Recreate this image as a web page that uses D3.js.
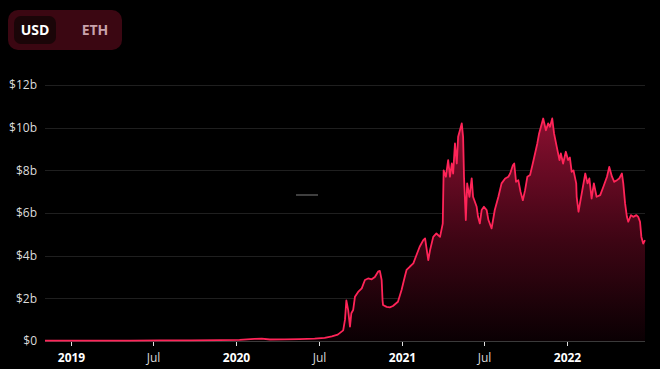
<!DOCTYPE html>
<html>
<head>
<meta charset="utf-8">
<script src="https://cdn.jsdelivr.net/npm/d3@7"></script>
<style>
  html, body { margin: 0; padding: 0; background: #000; }
  svg { display: block; }
</style>
</head>
<body>
<svg id="chart" width="660" height="369"></svg>
<script>
// ---- data (values in billions USD) ----
const dates = [
  "2018-11-04","2018-12-29","2019-03-05","2019-05-10","2019-07-15","2019-09-20","2019-11-25",
  "2020-01-08","2020-02-10","2020-02-26","2020-03-15","2020-04-17","2020-05-20","2020-06-22",
  "2020-07-14","2020-07-30","2020-08-12","2020-08-24","2020-08-28","2020-08-31","2020-09-04",
  "2020-09-08","2020-09-11","2020-09-15","2020-09-19","2020-09-26","2020-10-04","2020-10-11",
  "2020-10-18","2020-10-26","2020-11-02","2020-11-09","2020-11-13","2020-11-17","2020-11-19",
  "2020-11-20","2020-11-28","2020-12-05","2020-12-12","2020-12-23","2020-12-31","2021-01-07",
  "2021-01-11","2021-01-18","2021-01-26","2021-02-02","2021-02-09","2021-02-17","2021-02-21",
  "2021-02-28","2021-03-04","2021-03-11","2021-03-18","2021-03-26","2021-04-01","2021-04-03",
  "2021-04-08","2021-04-13","2021-04-17","2021-04-21","2021-04-24","2021-04-28","2021-05-02",
  "2021-05-05","2021-05-09","2021-05-13","2021-05-16","2021-05-18","2021-05-22","2021-05-25",
  "2021-05-30","2021-06-04","2021-06-07","2021-06-15","2021-06-18","2021-06-22","2021-06-26",
  "2021-07-01","2021-07-07","2021-07-11","2021-07-18","2021-07-25","2021-08-02","2021-08-09",
  "2021-08-17","2021-08-24","2021-08-28","2021-09-03","2021-09-06","2021-09-10","2021-09-15",
  "2021-09-20","2021-09-25","2021-09-30","2021-10-05","2021-10-11","2021-10-17","2021-10-22",
  "2021-10-27","2021-10-31","2021-11-06","2021-11-09","2021-11-15","2021-11-20","2021-11-24",
  "2021-11-29","2021-12-03","2021-12-09","2021-12-15","2021-12-18","2021-12-23","2021-12-29",
  "2022-01-03","2022-01-07","2022-01-11","2022-01-15","2022-01-21","2022-01-22","2022-01-26",
  "2022-02-02","2022-02-10","2022-02-15","2022-02-19","2022-02-24","2022-03-01","2022-03-07",
  "2022-03-15","2022-03-22","2022-03-30","2022-04-04","2022-04-10","2022-04-15","2022-04-21",
  "2022-04-26","2022-05-02","2022-05-05","2022-05-09","2022-05-13","2022-05-16","2022-05-22",
  "2022-05-27","2022-06-03","2022-06-07","2022-06-11","2022-06-14","2022-06-18","2022-06-22"
];
const tvlUSD = [
  0.02,0.02,0.02,0.02,0.03,0.03,0.04,
  0.05,0.10,0.11,0.07,0.08,0.09,0.11,
  0.15,0.22,0.30,0.50,1.00,1.90,1.45,
  0.67,1.30,1.45,2.07,2.30,2.47,2.86,
  2.93,2.89,3.00,3.25,3.29,2.86,1.90,
  1.69,1.60,1.58,1.64,1.84,2.39,3.00,
  3.33,3.48,3.64,4.03,4.42,4.73,4.81,
  3.79,4.26,4.88,5.04,4.88,5.50,8.00,
  7.70,8.48,7.70,8.32,7.85,9.26,8.32,
  9.57,9.88,10.20,9.57,7.70,5.67,7.39,
  6.76,7.62,6.76,6.29,5.82,5.51,6.14,
  6.29,6.14,5.67,5.28,6.14,6.76,7.39,
  7.62,7.70,7.85,8.24,8.32,7.46,7.54,
  6.99,6.60,7.07,7.70,7.78,8.32,8.79,
  9.26,9.73,10.20,10.43,9.88,10.20,10.04,
  10.43,9.73,9.10,8.48,8.79,8.32,8.87,
  8.48,8.60,7.93,8.00,7.39,6.76,6.06,
  6.90,7.85,7.39,7.62,6.68,7.39,6.76,
  6.84,7.23,7.70,8.16,7.70,7.46,7.54,
  7.62,7.85,7.39,6.45,5.82,5.59,5.90,
  5.82,5.90,5.82,5.59,4.88,4.57,4.73
];
const yTicks = [0, 2, 4, 6, 8, 10, 12];
const xTickDates = ["2019-01-01","2019-07-01","2020-01-01","2020-07-01","2021-01-01","2021-07-01","2022-01-01"];
const xTickLabels = ["2019","Jul","2020","Jul","2021","Jul","2022"];
const currencies = ["USD","ETH"];

// ---- chart ----
(function () {
const parse = d3.timeParse("%Y-%m-%d");
const data = dates.map((d, i) => ({ date: parse(d), value: tvlUSD[i] }));

const svg = d3.select("#chart");
const mLeft = 45, mRight = 645, mTop = 85, mBottom = 341;

const x = d3.scaleTime()
  .domain([parse("2018-11-04"), parse("2022-06-22")])
  .range([mLeft, mRight]);
const y = d3.scaleLinear().domain([0, 12]).range([mBottom, mTop]);

const font = "'Segoe UI', 'Open Sans', 'Noto Sans', sans-serif";

// gradient
const defs = svg.append("defs");
const grad = defs.append("linearGradient")
  .attr("id", "areaGrad").attr("gradientUnits", "userSpaceOnUse")
  .attr("x1", 0).attr("x2", 0).attr("y1", y(10.5)).attr("y2", y(0));
grad.append("stop").attr("offset", "0%").attr("stop-color", "#8a0f30");
grad.append("stop").attr("offset", "55%").attr("stop-color", "#3e0514");
grad.append("stop").attr("offset", "100%").attr("stop-color", "#0a0003");

// grid lines
svg.append("g").selectAll("line")
  .data(yTicks.filter(t => t > 0))
  .join("line")
  .attr("x1", mLeft).attr("x2", mRight)
  .attr("y1", d => Math.round(y(d)) + 0.5).attr("y2", d => Math.round(y(d)) + 0.5)
  .attr("stroke", "#1f1f1f").attr("stroke-width", 1);

// y labels
svg.append("g").selectAll("text")
  .data(yTicks)
  .join("text")
  .attr("x", 37).attr("y", d => y(d))
  .attr("dy", "0.35em")
  .attr("text-anchor", "end")
  .attr("fill", "#dcdcdc")
  .attr("font-family", font).attr("font-size", 12)
  .text(d => d === 0 ? "$0" : "$" + d + "b");

// baseline
svg.append("line")
  .attr("x1", mLeft).attr("x2", mRight)
  .attr("y1", mBottom + 0.5).attr("y2", mBottom + 0.5)
  .attr("stroke", "#3a3a3a").attr("stroke-width", 1);

// area + line
const area = d3.area().x(d => x(d.date)).y0(y(0)).y1(d => y(d.value)).curve(d3.curveLinear);
const line = d3.line().x(d => x(d.date)).y(d => y(d.value)).curve(d3.curveLinear);

svg.append("path").datum(data).attr("d", area).attr("fill", "url(#areaGrad)");
svg.append("path").datum(data).attr("d", line)
  .attr("fill", "none").attr("stroke", "#ff2458").attr("stroke-width", 1.8)
  .attr("stroke-linejoin", "round");

// x ticks
const xt = svg.append("g").selectAll("g")
  .data(xTickDates.map((d, i) => ({ date: parse(d), label: xTickLabels[i] })))
  .join("g")
  .attr("transform", d => `translate(${Math.round(x(d.date)) + 0.5},0)`);
xt.append("line").attr("y1", mBottom + 1).attr("y2", mBottom + 5)
  .attr("stroke", "#e0e0e0").attr("stroke-width", 1);
xt.append("text")
  .attr("y", 358).attr("dy", "0.35em")
  .attr("text-anchor", "middle")
  .attr("fill", d => d.label === "Jul" ? "#d8d8d8" : "#ffffff")
  .attr("font-weight", d => d.label === "Jul" ? 400 : 700)
  .attr("font-family", font).attr("font-size", 12)
  .text(d => d.label);

// faint artifact
svg.append("rect").attr("x", 296).attr("y", 194).attr("width", 22).attr("height", 2)
  .attr("fill", "#5a5a5a").attr("opacity", 0.7);

// currency toggle
const tog = svg.append("g");
tog.append("rect").attr("x", 8).attr("y", 10).attr("width", 114).attr("height", 40)
  .attr("rx", 10).attr("fill", "#3b0712");
tog.append("rect").attr("x", 14).attr("y", 16).attr("width", 42).attr("height", 28)
  .attr("rx", 7).attr("fill", "#1a0508");
tog.selectAll("text").data(currencies).join("text")
  .attr("x", (d, i) => i === 0 ? 35 : 95)
  .attr("y", 30).attr("dy", "0.35em")
  .attr("text-anchor", "middle")
  .attr("fill", (d, i) => i === 0 ? "#ffffff" : "#c9a2ab")
  .attr("font-family", font).attr("font-size", 14).attr("font-weight", 700)
  .text(d => d);
})();
</script>
</body>
</html>
